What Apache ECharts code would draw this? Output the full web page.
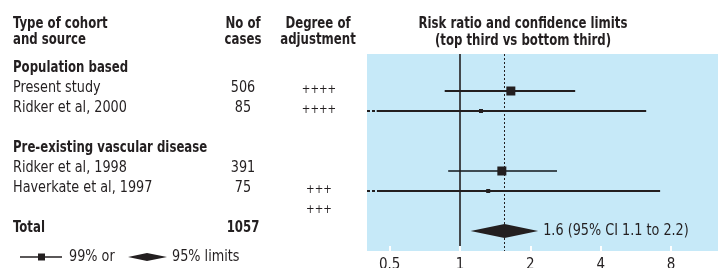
<!DOCTYPE html>
<html>
<head>
<meta charset="utf-8">
<script src="https://cdn.jsdelivr.net/npm/echarts@6/dist/echarts.min.js"></script>
<style>
  html, body { margin: 0; padding: 0; background: #fff; }
  #main { width: 718px; height: 268px; }
</style>
</head>
<body>
<div id="main"></div>
<script>
// table rows, index = row position on the plot (-1 = first group header)
var rowIndex = [-1, 0, 1, 3, 4, 5, 6, 7];
var rowLabels = ['Population based', 'Present study', 'Ridker et al, 2000', 'Pre-existing vascular disease', 'Ridker et al, 1998', 'Haverkate et al, 1997', '', 'Total'];
var rowBold = [true, false, false, true, false, false, false, true];
var rowCases = ['', '506', '85', '', '391', '75', '', '1057'];
var rowAdjust = ['', '++++', '++++', '', '', '+++', '+++', ''];

// studies
var studyRow = [0, 1, 4, 5];
var studyCases = [506, 85, 391, 75];
var studyEst = [1.65, 1.23, 1.51, 1.32];
var studyLow = [0.86, 0.44, 0.89, 0.45];
var studyHigh = [3.11, 6.26, 2.60, 7.18];
var studyCut = [false, true, false, true]; // interval runs past the left edge

// pooled
var poolRow = 7;
var poolEst = 1.55;
var poolLow = 1.11;
var poolHigh = 2.16;
var poolText = '1.6 (95% CI 1.1 to 2.2)';

var tickLabels = [0.5, 1, 2, 4, 8];

var FONT = '"Liberation Sans Narrow", "DejaVu Sans Condensed", sans-serif';
var INK = '#231f20';
var SQ_BOLD = 0.87, SQ_REG = 0.95; // squeeze to get the condensed look

var studyData = [];
for (var i = 0; i < studyRow.length; i++) {
    studyData.push([studyLow[i], studyHigh[i], studyEst[i], studyRow[i], studyCases[i], studyCut[i] ? 1 : 0, i]);
}

var chart = echarts.init(document.getElementById('main'));

var option = {
    animation: false,
    grid: {
        left: 367, right: 0, top: 54, bottom: 17,
        outerBoundsMode: 'none', containLabel: false,
        show: true, backgroundColor: '#c6e9f8', borderWidth: 0
    },
    xAxis: {
        type: 'log', logBase: 2, min: 0.4, max: 12.7,
        axisLine: { show: false, onZero: false },
        splitLine: { show: false },
        axisTick: { show: true, inside: true, length: 5, lineStyle: { color: '#ffffff', width: 2 } },
        axisLabel: {
            margin: 7, fontFamily: FONT, fontSize: 15, color: INK,
            showMinLabel: false, showMaxLabel: false,
            formatter: function (v) {
                for (var k = 0; k < tickLabels.length; k++) {
                    if (Math.abs(v - tickLabels[k]) < 1e-6) return String(tickLabels[k]);
                }
                return '';
            }
        },
        z: 5
    },
    yAxis: {
        type: 'value', inverse: true, min: -1.85, max: 8, show: false
    },
    series: [{
        type: 'custom',
        encode: { x: [0, 1, 2], y: 3 },
        data: studyData,
        renderItem: function (params, api) {
            var p0 = api.coord([api.value(0), api.value(3)]);
            var p1 = api.coord([api.value(1), api.value(3)]);
            var pc = api.coord([api.value(2), api.value(3)]);
            var s = api.value(4) > 300 ? 9 : 4;
            var stroke = api.value(6) === 2 ? '#3f4b52' : INK;
            var children = [{
                type: 'line',
                shape: { x1: p0[0], y1: p0[1], x2: p1[0], y2: p1[1] },
                style: { stroke: stroke, lineWidth: 2 }
            }, {
                type: 'rect',
                shape: { x: pc[0] - s / 2, y: pc[1] - s / 2, width: s, height: s },
                style: { fill: INK }
            }];
            if (api.value(5)) {
                children.push({
                    type: 'line',
                    shape: { x1: params.coordSys.x, y1: p0[1], x2: p0[0], y2: p0[1] },
                    style: { stroke: stroke, lineWidth: 2, lineDash: [3, 2] }
                });
            }
            return { type: 'group', children: children };
        },
        markLine: {
            silent: true, symbol: 'none', label: { show: false },
            data: [
                { xAxis: 1, lineStyle: { color: INK, width: 1.6, type: 'solid' } },
                { xAxis: poolEst, lineStyle: { color: INK, width: 1, type: [2, 2] } }
            ]
        }
    }, {
        type: 'custom',
        encode: { x: [0, 1, 2], y: 3 },
        data: [[poolLow, poolHigh, poolEst, poolRow]],
        renderItem: function (params, api) {
            var a = api.coord([api.value(0), api.value(3)]);
            var b = api.coord([api.value(1), api.value(3)]);
            var c = api.coord([api.value(2), api.value(3)]);
            var h = 7;
            return {
                type: 'group',
                children: [{
                    type: 'polygon',
                    shape: { points: [[a[0], a[1]], [c[0], c[1] - h], [b[0], b[1]], [c[0], c[1] + h]] },
                    style: { fill: INK }
                }, {
                    type: 'text',
                    x: b[0] + 5, y: b[1], scaleX: SQ_REG,
                    style: {
                        x: 0, y: 0, text: poolText, fill: INK,
                        font: '15px ' + FONT, textVerticalAlign: 'middle'
                    }
                }]
            };
        }
    }]
};

chart.setOption(option);

function rowY(r) {
    return chart.convertToPixel({ gridIndex: 0 }, [1, r])[1];
}

function txt(x, y, s, bold, align, size) {
    return {
        type: 'text', x: x, y: y, scaleX: bold ? SQ_BOLD : SQ_REG,
        style: {
            text: s, fill: INK, align: align || 'left', verticalAlign: 'middle',
            font: (bold ? 'bold ' : '') + (size || 15) + 'px ' + FONT
        }
    };
}

var g = [];
// headers
g.push(txt(13, 24.5, 'Type of cohort', true));
g.push(txt(13, 40.5, 'and source', true));
g.push(txt(243, 24.5, 'No of', true, 'center'));
g.push(txt(243, 40.5, 'cases', true, 'center'));
g.push(txt(318, 24.5, 'Degree of', true, 'center'));
g.push(txt(318, 40.5, 'adjustment', true, 'center'));
g.push(txt(523, 24.5, 'Risk ratio and confidence limits', true, 'center'));
g.push(txt(523, 41, '(top third vs bottom third)', true, 'center'));

for (var j = 0; j < rowIndex.length; j++) {
    var y = rowY(rowIndex[j]) - 2.5;
    if (rowLabels[j]) g.push(txt(13, y, rowLabels[j], rowBold[j]));
    if (rowCases[j]) g.push(txt(243, y, rowCases[j], rowBold[j], 'center'));
    if (rowAdjust[j]) g.push(txt(319, y + 1, rowAdjust[j], false, 'center', 12));
}

// key
var ky = 257;
g.push({ type: 'line', shape: { x1: 20, y1: ky, x2: 62, y2: ky }, style: { stroke: INK, lineWidth: 1.5 } });
g.push({ type: 'rect', shape: { x: 38, y: ky - 3.5, width: 7, height: 7 }, style: { fill: INK } });
g.push(txt(69, ky, '99% or', false));
g.push({ type: 'polygon', shape: { points: [[128, ky], [147, ky - 4], [167, ky], [147, ky + 4]] }, style: { fill: INK } });
g.push(txt(172, ky, '95% limits', false));

chart.setOption({ graphic: g });
</script>
</body>
</html>
